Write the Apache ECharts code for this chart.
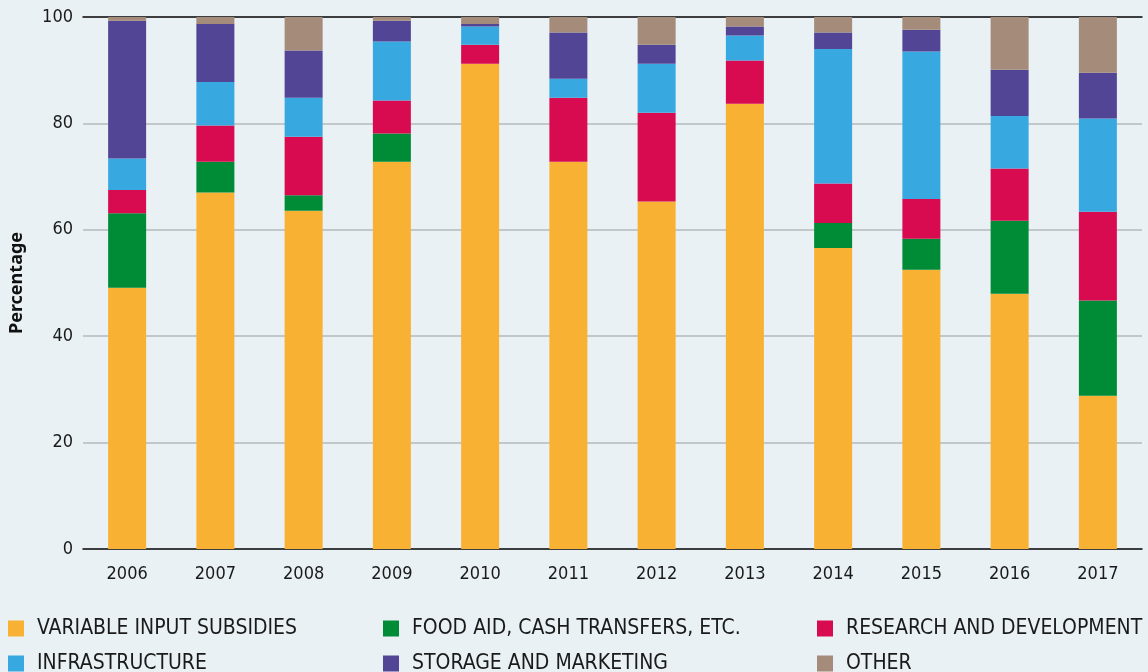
<!DOCTYPE html>
<html>
<head>
    <meta charset="utf-8">
    <title>Percentage by category</title>
    <style>
        html, body { margin: 0; padding: 0; background: #e9f1f5; }
        #main { width: 1148px; height: 672px; }
    </style>
</head>
<body>
<div id="main"></div>
<script src="https://cdn.jsdelivr.net/npm/echarts@6/dist/echarts.min.js"></script>
<script>
    var years = ['2006', '2007', '2008', '2009', '2010', '2011', '2012', '2013', '2014', '2015', '2016', '2017'];
    var yTicks = [0, 20, 40, 60, 80, 100];

    var variableInput = [49.1, 67.0, 63.6, 72.8, 91.2, 72.8, 65.3, 83.7, 56.6, 52.5, 48.0, 28.8];
    var foodAid       = [14.0, 5.8, 2.9, 5.3, 0, 0, 0, 0, 4.7, 5.8, 13.7, 17.9];
    var research      = [4.4, 6.8, 11.0, 6.2, 3.6, 12.0, 16.7, 8.1, 7.4, 7.5, 9.8, 16.7];
    var infrastructure = [5.9, 8.2, 7.3, 11.1, 3.4, 3.6, 9.2, 4.7, 25.3, 27.7, 9.9, 17.5];
    var storage       = [25.9, 10.9, 8.9, 3.9, 0.5, 8.7, 3.6, 1.7, 3.1, 4.1, 8.7, 8.6];
    var other         = [0.7, 1.3, 6.3, 0.7, 1.3, 2.9, 5.2, 1.8, 2.9, 2.4, 9.9, 10.5];

    var names = [
        'VARIABLE INPUT SUBSIDIES',
        'FOOD AID, CASH TRANSFERS, ETC.',
        'RESEARCH AND DEVELOPMENT',
        'INFRASTRUCTURE',
        'STORAGE AND MARKETING',
        'OTHER'
    ];
    var colors = ['#f8b133', '#008c37', '#d80b50', '#38a8e0', '#524596', '#a48b7a'];
    var values = [variableInput, foodAid, research, infrastructure, storage, other];

    var labelFont = "'Liberation Sans Narrow', 'DejaVu Sans Condensed', Roboto, sans-serif";

    // one legend per item so the three columns line up like the original
    var legendLeft = [8, 383, 817, 8, 383, 817];
    var legendTop = [618, 618, 618, 653, 653, 653];

    var legends = names.map(function (n, i) {
        return {
            left: legendLeft[i],
            top: legendTop[i],
            padding: 0,
            itemWidth: 16,
            itemHeight: 16,
            icon: 'rect',
            selectedMode: false,
            data: [n],
            textStyle: {
                fontFamily: labelFont,
                fontSize: 21,
                color: '#1a1a1a',
                padding: [0, 0, 0, 8]
            }
        };
    });

    var series = names.map(function (n, i) {
        return {
            name: n,
            type: 'bar',
            stack: 'total',
            barWidth: 38,
            itemStyle: { color: colors[i] },
            data: values[i]
        };
    });

    var myChart = echarts.init(document.getElementById('main'));
    var option = {
        backgroundColor: '#e9f1f5',
        animation: false,
        grid: { left: 81, right: 6, top: 17, bottom: 123 },
        legend: legends,
        xAxis: [{
            type: 'category',
            data: years,
            axisLine: { lineStyle: { color: '#111', width: 1.5 } },
            axisTick: { show: false },
            axisLabel: {
                margin: 16,
                fontFamily: labelFont,
                fontSize: 18,
                color: '#1a1a1a'
            }
        }, {
            type: 'category',
            position: 'top',
            data: years,
            axisLine: { lineStyle: { color: '#111', width: 1.5 } },
            axisTick: { show: false },
            axisLabel: { show: false }
        }],
        yAxis: {
            type: 'value',
            min: yTicks[0],
            max: yTicks[yTicks.length - 1],
            interval: 20,
            name: 'Percentage',
            nameLocation: 'middle',
            nameGap: 57,
            nameTextStyle: {
                fontFamily: "'Noto Sans', sans-serif",
                fontWeight: 'bold',
                fontSize: 18,
                color: '#111'
            },
            axisLine: { show: false },
            axisTick: { show: false },
            axisLabel: {
                margin: 10,
                fontFamily: labelFont,
                fontSize: 18,
                color: '#1a1a1a'
            },
            splitLine: { lineStyle: { color: '#b4b8bb', width: 1.5 } }
        },
        series: series
    };
    myChart.setOption(option);
</script>
</body>
</html>
